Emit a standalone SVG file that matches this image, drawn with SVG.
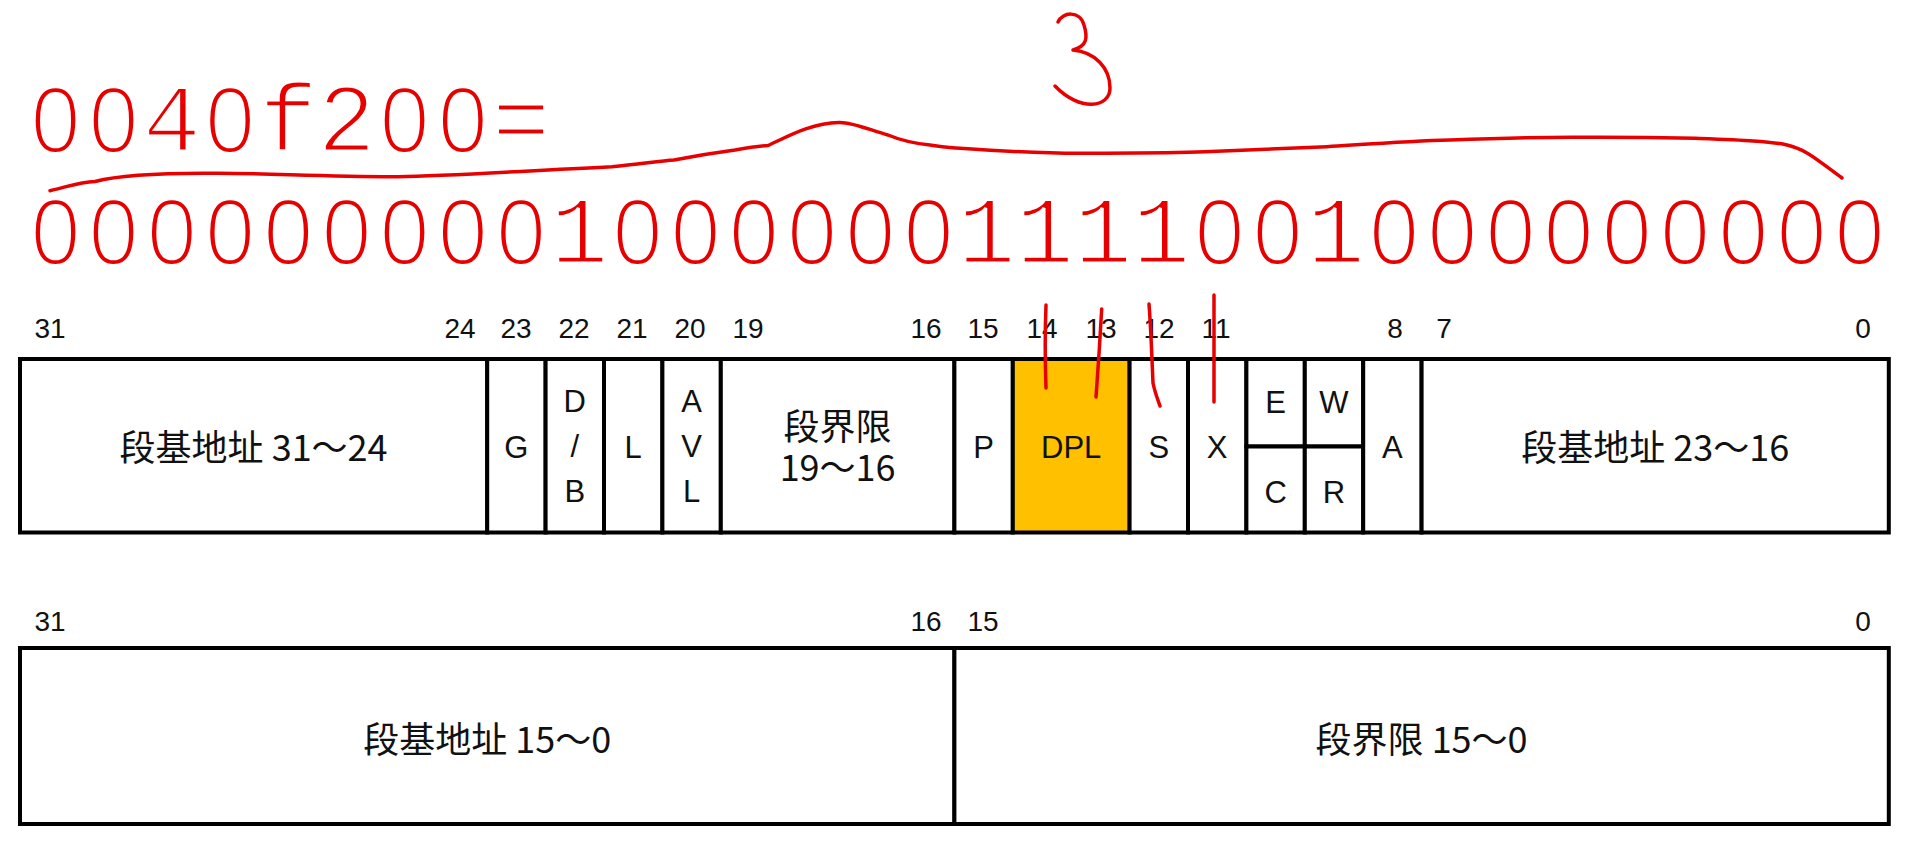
<svg xmlns="http://www.w3.org/2000/svg" width="1920" height="850" viewBox="0 0 1920 850">
<style>
.cell{fill:#fff;stroke:#000;stroke-width:4}
.dpl{fill:#FFC000;stroke:#000;stroke-width:4}
.num{font-family:"Liberation Sans",Arial,sans-serif;font-size:28px;fill:#111;text-anchor:middle}
.lt{font-family:"Liberation Sans",Arial,sans-serif;font-size:31px;fill:#111;text-anchor:middle}
.cjk{font-family:"Noto Sans CJK SC","Noto Sans",sans-serif;font-size:36px;fill:#111;text-anchor:middle}
.redtxt{text-anchor:middle;fill:#e60000}
.zero{font-family:"Open Sans","Liberation Sans",sans-serif;font-weight:300;font-size:87px;stroke:none}
.mono{font-family:"Liberation Mono","Courier New",monospace;font-size:97px;stroke:#fff;stroke-width:3}
.ink{fill:none;stroke:#e80000;stroke-width:3.5;stroke-linecap:round;stroke-linejoin:round}
</style>
<rect width="1920" height="850" fill="#fff"/>

<g id="hex-value">
<text class="redtxt" y="151"><tspan class="zero" x="55.5 113.7">00</tspan><tspan class="mono" x="171.9">4</tspan><tspan class="zero" x="230.1">0</tspan><tspan class="mono" x="288.3 346.5">f2</tspan><tspan class="zero" x="404.7 462.9">00</tspan><tspan class="mono" x="521.1">=</tspan></text>
</g>
<g id="binary-value">
<text class="redtxt" y="263"><tspan class="zero" x="55.5 113.7 171.9 230.1 288.3 346.5 404.7 462.9 521.1">000000000</tspan><tspan class="mono" x="579.3">1</tspan><tspan class="zero" x="637.5 695.7 753.9 812.1 870.3 928.5">000000</tspan><tspan class="mono" x="986.7 1044.9 1103.1 1161.3">1111</tspan><tspan class="zero" x="1219.5 1277.7">00</tspan><tspan class="mono" x="1335.9">1</tspan><tspan class="zero" x="1394.1 1452.3 1510.5 1568.7 1626.9 1685.1 1743.3 1801.5 1859.7">000000000</tspan></text>
</g>

<g id="bit-numbers-high">
<text class="num" x="50" y="338">31</text>
<text class="num" x="460" y="338">24</text>
<text class="num" x="516" y="338">23</text>
<text class="num" x="574" y="338">22</text>
<text class="num" x="632" y="338">21</text>
<text class="num" x="690" y="338">20</text>
<text class="num" x="748" y="338">19</text>
<text class="num" x="926" y="338">16</text>
<text class="num" x="983" y="338">15</text>
<text class="num" x="1042" y="338">14</text>
<text class="num" x="1101" y="338">13</text>
<text class="num" x="1159" y="338">12</text>
<text class="num" x="1216" y="338">11</text>
<text class="num" x="1395" y="338">8</text>
<text class="num" x="1444" y="338">7</text>
<text class="num" x="1863" y="338">0</text>
</g>

<g id="base-31-24">
<rect class="cell" x="20" y="359" width="467.2" height="173.5"/>
<text class="cjk" x="253.6" y="461">段基地址 31～24</text>
</g>
<g id="G">
<rect class="cell" x="487.2" y="359" width="58.4" height="173.5"/>
<text class="lt" x="516.4" y="458">G</text>
</g>
<g id="DB">
<rect class="cell" x="545.6" y="359" width="58.4" height="173.5"/>
<text class="lt" x="574.8" y="412">D<tspan x="574.8" y="457">/</tspan><tspan x="574.8" y="502">B</tspan></text>
</g>
<g id="L">
<rect class="cell" x="604" y="359" width="58.4" height="173.5"/>
<text class="lt" x="633.2" y="458">L</text>
</g>
<g id="AVL">
<rect class="cell" x="662.4" y="359" width="58.4" height="173.5"/>
<text class="lt" x="691.6" y="412">A<tspan x="691.6" y="457">V</tspan><tspan x="691.6" y="502">L</tspan></text>
</g>
<g id="limit-19-16">
<rect class="cell" x="720.8" y="359" width="233.6" height="173.5"/>
<text class="cjk" x="837.6" y="440">段界限<tspan x="837.6" y="481">19～16</tspan></text>
</g>
<g id="P">
<rect class="cell" x="954.4" y="359" width="58.4" height="173.5"/>
<text class="lt" x="983.6" y="458">P</text>
</g>
<g id="DPL">
<rect class="dpl" x="1012.8" y="359" width="116.8" height="173.5"/>
<text class="lt" x="1071.2" y="458">DPL</text>
</g>
<g id="S">
<rect class="cell" x="1129.6" y="359" width="58.4" height="173.5"/>
<text class="lt" x="1158.8" y="458">S</text>
</g>
<g id="X">
<rect class="cell" x="1188" y="359" width="58.4" height="173.5"/>
<text class="lt" x="1217.2" y="458">X</text>
</g>
<g id="E">
<rect class="cell" x="1246.4" y="359" width="58.4" height="87.5"/>
<text class="lt" x="1275.6" y="413">E</text>
</g>
<g id="C">
<rect class="cell" x="1246.4" y="446.5" width="58.4" height="86"/>
<text class="lt" x="1275.6" y="503">C</text>
</g>
<g id="W">
<rect class="cell" x="1304.8" y="359" width="58.4" height="87.5"/>
<text class="lt" x="1334" y="413">W</text>
</g>
<g id="R">
<rect class="cell" x="1304.8" y="446.5" width="58.4" height="86"/>
<text class="lt" x="1334" y="503">R</text>
</g>
<g id="A">
<rect class="cell" x="1363.2" y="359" width="58.4" height="173.5"/>
<text class="lt" x="1392.4" y="458">A</text>
</g>
<g id="base-23-16">
<rect class="cell" x="1421.6" y="359" width="467.2" height="173.5"/>
<text class="cjk" x="1655.2" y="461">段基地址 23～16</text>
</g>

<g id="bit-numbers-low">
<text class="num" x="50" y="631">31</text>
<text class="num" x="926" y="631">16</text>
<text class="num" x="983" y="631">15</text>
<text class="num" x="1863" y="631">0</text>
</g>
<g id="base-15-0">
<rect class="cell" x="20" y="648" width="934.4" height="176"/>
<text class="cjk" x="487.2" y="753">段基地址 15～0</text>
</g>
<g id="limit-15-0">
<rect class="cell" x="954.4" y="648" width="934.4" height="176"/>
<text class="cjk" x="1421.6" y="753">段界限 15～0</text>
</g>

<g id="connectors">
<path class="ink" d="M50,190.7 C70,186 80,182 95,181.5 C120,175 170,173 214,173.3 C260,173 330,177 398,176.7 C450,176 520,171 612,166.7 C640,164 660,161 674,160 C700,155 720,152 735,150 C752,147 760,146 768,145.5 C785,138 810,123 839,122.5 C852,122 870,130 888,135 C900,140 910,143 930,145 C945,147 952,148 960,148.3 C1000,151 1040,153.5 1082.5,153.3 C1130,153 1170,153 1205,151.7 C1250,150 1290,148 1327,146.7 C1370,144 1410,141 1450,140 C1490,138.5 1530,137.3 1572,137.3 C1620,137 1660,137.5 1695,138.3 C1740,140 1770,141 1787,145 C1805,149 1815,158 1842,178"/>
<path class="ink" d="M1058,22 C1062,12 1080,10 1084,25 C1088,38 1087,46 1073,50 C1095,52 1110,68 1110,88 C1110,108 1080,112 1055,86"/>
<path class="ink" d="M1046,305 C1045,330 1045,360 1046,388" stroke-width="3"/>
<path class="ink" d="M1101.7,309 C1100,340 1098,370 1096,397" stroke-width="3"/>
<path class="ink" d="M1149,304 C1151,330 1152,360 1153,383 C1155,393 1158,400 1160,406" stroke-width="3"/>
<path class="ink" d="M1214,295 L1214,402" stroke-width="3"/>
</g>
</svg>
